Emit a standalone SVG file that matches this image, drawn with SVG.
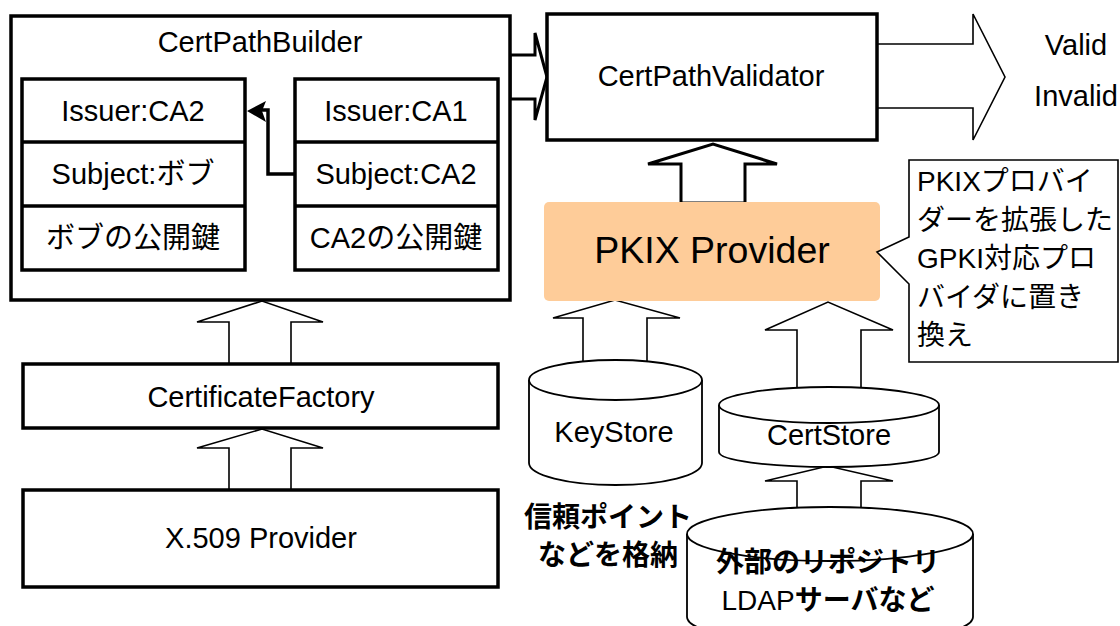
<svg xmlns="http://www.w3.org/2000/svg" width="1120" height="626" viewBox="0 0 1120 626">
  <style>
    .box { fill: #fff; stroke: #000; stroke-width: 3.5; }
    .thin { fill: #fff; stroke: #000; stroke-width: 1.6; stroke-linejoin: miter; }
    .thick { fill: #fff; stroke: #000; stroke-width: 3; stroke-linejoin: miter; }
    .cyl { fill: #fff; stroke: #000; stroke-width: 1.8; }
    text { font-family: "Liberation Sans", "Noto Sans CJK JP", sans-serif; fill: #000; }
    .lbl { font-size: 29px; text-anchor: middle; }
    .cjk { font-size: 28px; }
    .bold { font-weight: bold; }
  </style>

  <!-- connectors (block arrows and the issuer link) -->
  <g id="connectors">
    <!-- builder -> validator -->
    <polygon class="thick" points="510,55 535,55 535,33 547,77 535,120 535,99 510,99"/>
    <!-- validator -> result -->
    <polygon class="thin" points="877,44 973,44 973,14 1005,77 973,140 973,108 877,108"/>
    <!-- PKIX provider -> validator -->
    <polygon class="thick" points="681,203 681,164 648,164 713,144 777,164 745,164 745,203"/>
    <!-- CertificateFactory -> builder -->
    <polygon class="thin" points="229,364 229,322 197,322 262,301 323,322 291,322 291,364"/>
    <!-- X.509 provider -> CertificateFactory -->
    <polygon class="thin" points="229,490 229,448 197,448 262,429 323,448 291,448 291,490"/>
    <!-- KeyStore -> PKIX provider -->
    <polygon class="thin" points="583,364 583,318 553,318 615,300 680,318 647,318 647,364"/>
    <!-- CertStore -> PKIX provider -->
    <polygon class="thin" points="797,391 797,330 765,330 828,302 893,330 861,330 861,391"/>
    <!-- repository -> CertStore -->
    <polygon class="thin" points="797,510 797,481 765,481 828,466 893,481 861,481 861,510"/>
  </g>

  <!-- path builder with two certificates -->
  <g id="cert-path-builder">
    <rect class="box" x="11" y="16" width="499" height="284"/>
    <text class="lbl" x="260" y="52" font-size="30">CertPathBuilder</text>
  </g>

  <g id="cert-bob">
    <rect class="box" x="22" y="79" width="223" height="191"/>
    <line x1="22" y1="142" x2="245" y2="142" stroke="#000" stroke-width="3.5"/>
    <line x1="22" y1="206" x2="245" y2="206" stroke="#000" stroke-width="3.5"/>
    <text class="lbl" x="133" y="121">Issuer:CA2</text>
    <text class="lbl" x="133" y="184">Subject:ボブ</text>
    <text class="lbl" x="133" y="248">ボブの公開鍵</text>
  </g>

  <g id="cert-ca2">
    <rect class="box" x="295" y="79" width="203" height="191"/>
    <line x1="295" y1="142" x2="498" y2="142" stroke="#000" stroke-width="3.5"/>
    <line x1="295" y1="206" x2="498" y2="206" stroke="#000" stroke-width="3.5"/>
    <text class="lbl" x="396" y="121">Issuer:CA1</text>
    <text class="lbl" x="396" y="184">Subject:CA2</text>
    <text class="lbl" x="396" y="248">CA2の公開鍵</text>
  </g>

  <g id="issuer-link">
    <polyline points="295,174 268,174 268,110 262,110" fill="none" stroke="#000" stroke-width="3.5"/>
    <path d="M247,111 L266,101 L262,111 L266,122 Z" fill="#000"/>
  </g>

  <g id="cert-path-validator">
    <rect class="box" x="547" y="14" width="330" height="126"/>
    <text class="lbl" x="711" y="86" font-size="30.5">CertPathValidator</text>
  </g>

  <g id="result">
    <text class="lbl" x="1076" y="55">Valid</text>
    <text class="lbl" x="1076" y="106">Invalid</text>
  </g>

  <g id="pkix-provider">
    <rect x="544" y="202" width="336" height="99" rx="5" fill="#FECC99"/>
    <text x="712" y="263" font-size="37.5" text-anchor="middle">PKIX Provider</text>
  </g>

  <g id="note">
    <path d="M909,237 L909,160 L1118,160 L1118,362 L909,362 L909,284 L877,252 Z" fill="#fff" stroke="#000" stroke-width="1.6"/>
    <text class="cjk" x="917" y="191">PKIXプロバイ</text>
    <text class="cjk" x="917" y="229.5">ダーを拡張した</text>
    <text class="cjk" x="917" y="268">GPKI対応プロ</text>
    <text class="cjk" x="917" y="306.5">バイダに置き</text>
    <text class="cjk" x="917" y="345">換え</text>
  </g>

  <g id="certificate-factory">
    <rect class="box" x="23" y="364" width="475" height="64" stroke-width="3"/>
    <text class="lbl" x="261" y="407" font-size="31">CertificateFactory</text>
  </g>

  <g id="x509-provider">
    <rect class="box" x="23" y="490" width="475" height="97" stroke-width="3"/>
    <text class="lbl" x="261" y="548">X.509 Provider</text>
  </g>

  <g id="keystore">
    <path class="cyl" d="M529,380 L529,463 A86.5,22 0 0 0 702,463 L702,380 A86.5,20 0 0 0 529,380 Z"/>
    <path class="cyl" fill="none" d="M529,380 A86.5,20 0 0 0 702,380"/>
    <text class="lbl" x="614" y="442">KeyStore</text>
    <text class="cjk bold" x="608" y="527" text-anchor="middle">信頼ポイント</text>
    <text class="cjk bold" x="608" y="565" text-anchor="middle">などを格納</text>
  </g>

  <g id="certstore">
    <path class="cyl" d="M719,405 L719,452 A110,15 0 0 0 939,452 L939,405 A110,18 0 0 0 719,405 Z"/>
    <path class="cyl" fill="none" d="M719,405 A110,18 0 0 0 939,405"/>
    <text class="lbl" x="829" y="445" font-size="30">CertStore</text>
  </g>

  <g id="repository">
    <path class="cyl" d="M687,534 L687,617 A143,27 0 0 0 973,617 L973,534 A143,27 0 0 0 687,534 Z"/>
    <path class="cyl" fill="none" d="M687,534 A143,27 0 0 0 973,534"/>
    <text class="cjk bold" x="828" y="572" text-anchor="middle">外部のリポジトリ</text>
    <text class="cjk" x="828" y="610" text-anchor="middle">LDAP<tspan class="bold">サーバなど</tspan></text>
  </g>
</svg>
